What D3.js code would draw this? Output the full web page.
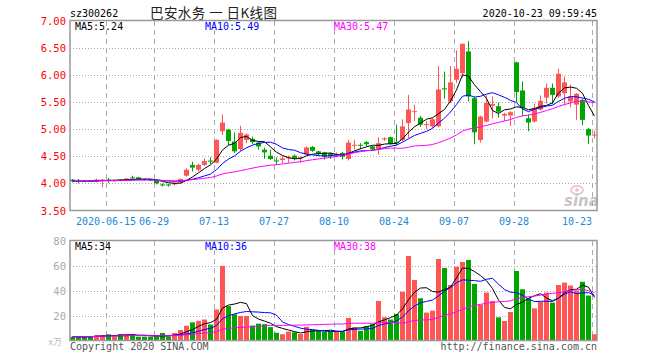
<!DOCTYPE html>
<html><head><meta charset="utf-8">
<script src="https://cdn.jsdelivr.net/npm/d3@7"></script>
<style>body{margin:0;background:#fff}svg{display:block}</style>
</head><body>
<svg id="c" width="660" height="360"></svg>
<script>
const dates = [
"2020-06-05","2020-06-08","2020-06-09","2020-06-10","2020-06-11","2020-06-12",
"2020-06-15","2020-06-16","2020-06-17","2020-06-18","2020-06-19",
"2020-06-22","2020-06-23","2020-06-24","2020-06-29","2020-06-30",
"2020-07-01","2020-07-02","2020-07-03","2020-07-06","2020-07-07","2020-07-08","2020-07-09","2020-07-10",
"2020-07-13","2020-07-14","2020-07-15","2020-07-16","2020-07-17",
"2020-07-20","2020-07-21","2020-07-22","2020-07-23","2020-07-24",
"2020-07-27","2020-07-28","2020-07-29","2020-07-30","2020-07-31",
"2020-08-03","2020-08-04","2020-08-05","2020-08-06","2020-08-07",
"2020-08-10","2020-08-11","2020-08-12","2020-08-13","2020-08-14",
"2020-08-17","2020-08-18","2020-08-19","2020-08-20","2020-08-21",
"2020-08-24","2020-08-25","2020-08-26","2020-08-27","2020-08-28",
"2020-08-31","2020-09-01","2020-09-02","2020-09-03","2020-09-04",
"2020-09-07","2020-09-08","2020-09-09","2020-09-10","2020-09-11",
"2020-09-21","2020-09-22","2020-09-23","2020-09-24","2020-09-25",
"2020-09-28","2020-09-29","2020-09-30","2020-10-09",
"2020-10-12","2020-10-13","2020-10-14","2020-10-15","2020-10-16",
"2020-10-19","2020-10-20","2020-10-21","2020-10-22","2020-10-23"];
const opens = [4.07,4.05,4.05,4.05,4.04,4.06,4.07,4.04,4.07,4.06,
4.11,4.11,4.08,4.07,4.06,3.98,3.98,3.98,4.02,4.14,
4.34,4.25,4.34,4.42,4.38,4.96,4.99,4.77,4.63,4.80,
4.82,4.75,4.62,4.51,4.42,4.43,4.46,4.51,4.47,4.53,
4.67,4.59,4.57,4.55,4.52,4.56,4.45,4.70,4.71,4.76,
4.68,4.63,4.81,4.85,4.76,4.80,5.11,5.32,5.21,5.07,
5.05,5.05,5.75,5.51,5.91,6.03,6.43,5.57,4.80,5.14,
5.43,5.42,5.25,5.25,6.23,5.71,5.20,5.14,5.36,5.58,
5.76,5.60,5.66,5.51,5.45,5.54,5.00,4.88];
const closes = [4.04,4.04,4.04,4.04,4.07,4.07,4.05,4.06,4.06,4.09,
4.10,4.08,4.07,4.06,4.00,3.97,3.96,4.01,4.08,4.25,
4.29,4.34,4.41,4.40,4.80,5.12,4.78,4.59,4.93,4.90,
4.76,4.68,4.57,4.45,4.41,4.46,4.48,4.46,4.48,4.66,
4.60,4.54,4.49,4.50,4.54,4.49,4.75,4.71,4.70,4.72,
4.63,4.74,4.83,4.73,4.74,5.05,5.36,5.33,5.08,5.09,
5.18,5.73,5.73,5.86,6.11,6.57,5.60,4.94,5.23,5.48,
5.46,5.32,5.28,5.31,5.68,5.39,5.12,5.39,5.52,5.76,
5.63,6.02,5.86,5.60,5.65,5.17,4.88,4.90];
const highs = [4.08,4.08,4.06,4.06,4.08,4.08,4.10,4.07,4.07,4.10,
4.14,4.12,4.09,4.08,4.06,4.00,3.99,4.02,4.09,4.28,
4.40,4.36,4.46,4.48,4.81,5.27,5.00,4.94,5.06,4.92,
4.86,4.77,4.66,4.62,4.48,4.50,4.51,4.53,4.50,4.68,
4.69,4.60,4.58,4.57,4.57,4.58,4.80,4.80,4.74,4.78,
4.69,4.85,4.85,4.86,5.08,5.18,5.63,5.45,5.24,5.15,
5.20,6.16,6.06,6.16,6.45,6.58,6.62,5.60,5.25,5.62,
5.60,5.49,5.30,5.33,6.24,5.88,5.27,5.47,5.62,5.84,
5.84,6.11,5.97,5.82,5.66,5.56,5.02,4.97];
const lows = [4.02,4.00,4.02,4.03,4.02,3.93,4.01,4.03,4.04,4.05,
4.07,4.06,4.05,4.04,3.98,3.94,3.94,3.96,4.00,4.12,
4.22,4.22,4.32,4.35,4.37,4.89,4.70,4.56,4.60,4.74,
4.72,4.62,4.45,4.43,4.34,4.37,4.38,4.42,4.38,4.52,
4.58,4.51,4.44,4.45,4.48,4.44,4.42,4.62,4.63,4.68,
4.60,4.53,4.78,4.71,4.70,4.78,4.83,5.15,5.04,5.00,
5.02,5.03,5.56,5.48,5.85,5.95,5.51,4.72,4.75,5.12,
5.20,5.21,5.15,5.06,5.50,5.24,4.96,5.12,5.34,5.47,
5.46,5.58,5.44,5.40,5.17,5.07,4.73,4.83];
const volumes = [3,3,3,3,4.4,4.4,5,3,5,5,
5,3,3,3,3,6,3,6,8.4,11.8,
14.5,15.7,16.8,12.8,24.8,59.7,27.5,21,19.6,19.6,
12,13.5,13.1,10.7,6.2,5,7.1,6.6,5.2,10.9,
8.5,7.8,7,7,7.1,7,18,10.5,7.8,11.5,
13.1,31.6,18.6,16.8,21.2,39,67.6,48.4,33.8,22.3,
23.9,65.2,58,44.4,59,62.8,64.4,45.2,28.4,38.3,
31.6,18.5,15.6,22.8,55.6,41,33.8,25.7,31,38.3,
30.3,44.4,46.3,44,40,47,36,5];
const tickDates = ["2020-06-15","2020-06-29","2020-07-13","2020-07-27","2020-08-10","2020-08-24","2020-09-07","2020-09-28","2020-10-23"];
const tickLabels = ["2020-06-15","06-29","07-13","07-27","08-10","08-24","09-07","09-28","10-23"];
const priceTicks = [3.5,4.0,4.5,5.0,5.5,6.0,6.5,7.0];
const volTicks = [20,40,60,80];
const maPeriods = [5,10,30];
const maColors = ["#000000","#0000ff","#ff00ff"];
const priceMALegend = ["5.24","5.49","5.47"];
const volMALegend = ["34","36","38"];
const stockCode = "sz300262";
const titleText = "巴安水务 一 日K线图";
const stampText = "2020-10-23 09:59:45";

const RED = "#ff5555", GREEN = "#00a600";
const mono = "'DejaVu Sans Mono', 'Liberation Mono', monospace";
const svg = d3.select("#c");
const L = 70, R = 597;
const x = d3.scaleBand().domain(dates).range([L, R]).paddingInner(1/6).paddingOuter(0);
const bw = x.bandwidth();
const cx = i => x(dates[i]) + bw / 2;
const y = d3.scaleLinear().domain([3.5, 7]).range([210.5, 20.5]);
const yv = d3.scaleLinear().domain([0, 80]).range([340.5, 240.5]);
const color = i => closes[i] >= opens[i] ? RED : GREEN;

function ma(arr, n) {
  return arr.map((_, i) => d3.mean(arr.slice(Math.max(0, i - n + 1), i + 1)));
}

// Header texts
svg.append("text").attr("x", 70).attr("y", 17).attr("font-family", mono).attr("font-size", 10).attr("fill", "#000").text(stockCode);
svg.append("text").attr("x", 150).attr("y", 18).attr("textLength", 127).attr("lengthAdjust", "spacing")
  .attr("font-family", "'Noto Sans CJK SC', sans-serif").attr("font-size", 13.5).attr("fill", "#222").text(titleText);
svg.append("text").attr("x", 597).attr("y", 17).attr("text-anchor", "end").attr("font-family", mono).attr("font-size", 10).attr("fill", "#000").text(stampText);

// Grids price panel
const gp = svg.append("g");
gp.selectAll("line.h").data(priceTicks.slice(1, -1)).join("line")
  .attr("x1", L).attr("x2", R).attr("y1", d => Math.round(y(d)) + 0.5).attr("y2", d => Math.round(y(d)) + 0.5)
  .attr("stroke", "#aaa").attr("stroke-dasharray", "1,2");
gp.selectAll("line.v").data(tickDates).join("line")
  .attr("x1", d => x(d) + 0.5).attr("x2", d => x(d) + 0.5).attr("y1", 21).attr("y2", 210)
  .attr("stroke", "#aaa").attr("stroke-dasharray", "5,4");
// Grids volume panel
const gv = svg.append("g");
gv.selectAll("line.h").data(volTicks.slice(0, -1)).join("line")
  .attr("x1", L).attr("x2", R).attr("y1", d => Math.round(yv(d)) + 0.5).attr("y2", d => Math.round(yv(d)) + 0.5)
  .attr("stroke", "#aaa").attr("stroke-dasharray", "1,2");
gv.selectAll("line.v").data(tickDates).join("line")
  .attr("x1", d => x(d) + 0.5).attr("x2", d => x(d) + 0.5).attr("y1", 241).attr("y2", 340)
  .attr("stroke", "#aaa").attr("stroke-dasharray", "5,4");

// Sina watermark
const wm = svg.append("g").attr("opacity", 0.55);
wm.append("ellipse").attr("cx", 577).attr("cy", 190).attr("rx", 6).attr("ry", 4).attr("fill", "none").attr("stroke", "#d88").attr("stroke-width", 1.5);
wm.append("circle").attr("cx", 577).attr("cy", 190).attr("r", 1.8).attr("fill", "#d88");
wm.append("text").attr("x", 564).attr("y", 206).attr("font-family", "'DejaVu Sans', sans-serif").attr("font-weight", "bold").attr("font-style", "italic").attr("font-size", 15).attr("fill", "#999").text("sina");

// Candles
const cg = svg.append("g");
dates.forEach((d, i) => {
  const c = color(i);
  const xc = Math.floor(cx(i)) + 0.5;
  cg.append("line").attr("x1", xc).attr("x2", xc).attr("y1", y(highs[i])).attr("y2", y(lows[i])).attr("stroke", c);
  const top = y(Math.max(opens[i], closes[i])), bot = y(Math.min(opens[i], closes[i]));
  cg.append("rect").attr("x", x(d)).attr("width", bw).attr("y", top).attr("height", Math.max(1, bot - top)).attr("fill", c);
});
// Price MA lines
maPeriods.forEach((n, k) => {
  const m = ma(closes, n);
  svg.append("path").datum(m).attr("fill", "none").attr("stroke", maColors[k]).attr("stroke-width", 1)
    .attr("d", d3.line().x((v, i) => cx(i)).y(v => y(v)));
});

// Volume bars
svg.append("g").selectAll("rect").data(volumes).join("rect")
  .attr("x", (v, i) => x(dates[i])).attr("width", bw)
  .attr("y", v => yv(v)).attr("height", v => yv(0) - yv(v))
  .attr("fill", (v, i) => color(i));
maPeriods.forEach((n, k) => {
  const m = ma(volumes, n);
  svg.append("path").datum(m).attr("fill", "none").attr("stroke", maColors[k]).attr("stroke-width", 1)
    .attr("d", d3.line().x((v, i) => cx(i)).y(v => yv(v)));
});

// Borders
svg.append("rect").attr("x", L).attr("y", 20.5).attr("width", R - L).attr("height", 190).attr("fill", "none").attr("stroke", "#999").attr("stroke-width", 1.5);
svg.append("rect").attr("x", L).attr("y", 240.5).attr("width", R - L).attr("height", 100).attr("fill", "none").attr("stroke", "#999").attr("stroke-width", 1.5);

// Price axis labels
svg.append("g").selectAll("text").data(priceTicks).join("text")
  .attr("x", 66).attr("y", d => y(d) + 4).attr("text-anchor", "end")
  .attr("font-family", mono).attr("font-size", 10.5).attr("fill", "#ff0000").text(d => d.toFixed(2));
// Volume axis labels
svg.append("g").selectAll("text").data(volTicks).join("text")
  .attr("x", 66).attr("y", d => yv(d) + 4).attr("text-anchor", "end")
  .attr("font-family", mono).attr("font-size", 10.5).attr("fill", "#aaa").text(d => d);
svg.append("text").attr("x", 62).attr("y", 345).attr("text-anchor", "end").attr("font-family", "'Noto Sans CJK SC', sans-serif").attr("font-size", 9).attr("fill", "#bbb").text("x万");

// Date labels
const dl = svg.append("g").selectAll("text").data(tickDates).join("text")
  .attr("x", d => x(d)).attr("y", 225).attr("text-anchor", "middle")
  .attr("font-family", mono).attr("font-size", 10).attr("fill", "#1a8ad8").text((d, i) => tickLabels[i]);
dl.each(function(d) {
  const w = this.getComputedTextLength();
  if (x(d) + w / 2 > R - 2) d3.select(this).attr("text-anchor", "end");
});

// Legends
const legX = [75, 205, 334];
maPeriods.forEach((n, k) => {
  svg.append("text").attr("x", legX[k]).attr("y", 30).attr("font-family", mono).attr("font-size", 10).attr("fill", maColors[k]).text(`MA${n}:${priceMALegend[k]}`);
  svg.append("text").attr("x", legX[k]).attr("y", 250).attr("font-family", mono).attr("font-size", 10).attr("fill", maColors[k]).text(`MA${n}:${volMALegend[k]}`);
});

// Footer
svg.append("text").attr("x", 70).attr("y", 350).attr("font-family", mono).attr("font-size", 10).attr("fill", "#555").text("Copyright 2020 SINA.COM");
svg.append("text").attr("x", 597).attr("y", 350).attr("text-anchor", "end").attr("font-family", mono).attr("font-size", 10).attr("fill", "#555").text("http://finance.sina.com.cn");
</script>
</body></html>
